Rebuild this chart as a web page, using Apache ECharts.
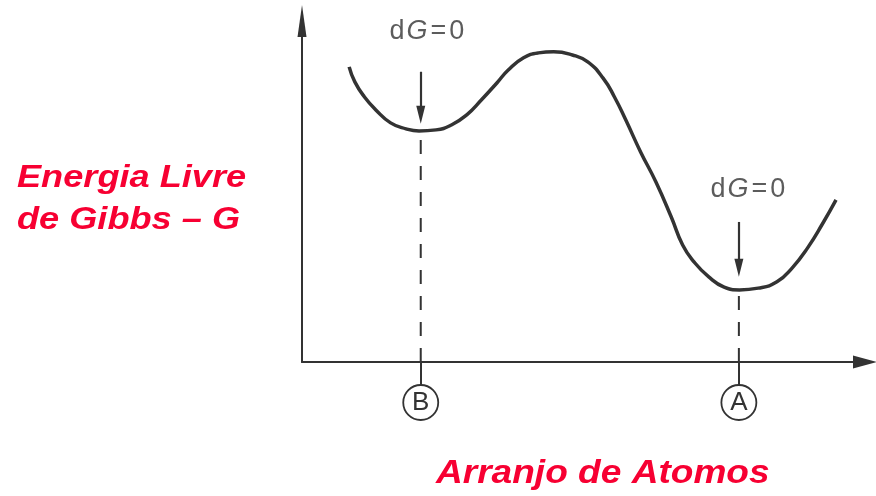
<!DOCTYPE html>
<html>
<head>
<meta charset="utf-8">
<script src="https://cdn.jsdelivr.net/npm/echarts@6/dist/echarts.min.js"></script>
<style>
  html, body { margin: 0; padding: 0; background: #ffffff; }
  #chart { width: 876px; height: 496px; }
</style>
</head>
<body>
<div id="chart"></div>
<script>
// Free-energy profile along the atomic arrangement coordinate
const curveX = [8.3, 9.3, 11.0, 13.0, 15.6, 18.3, 20.6, 23.6, 26.3, 29.0, 31.6, 34.3, 36.3, 39.0, 41.6, 44.3, 47.6, 50.3,
  53.0, 55.0, 57.0, 59.6, 62.3, 65.0, 67.0, 69.0, 71.6, 74.3, 77.0, 80.3, 83.6, 86.3, 89.0, 91.7, 94.0];
const curveG = [84.3, 80.0, 75.7, 72.0, 68.3, 66.6, 66.0, 66.3, 67.7, 70.6, 74.9, 79.7, 83.4, 86.9, 88.3, 88.6, 87.7, 85.7,
  81.1, 75.7, 69.1, 60.0, 51.4, 41.4, 33.4, 28.6, 24.3, 21.4, 20.6, 21.1, 22.9, 26.9, 32.6, 39.7, 46.3];

// Equilibrium states (local minima, dG = 0)
const stateNames = ['B', 'A'];
const stateX = [20.9, 76.9];
const stateG = [66.0, 20.6];

// Downward arrows pointing at each minimum (G values)
const arrowFrom = [82.9, 40.0];
const arrowTo = [70.6, 26.9];

// "dG=0" annotations (anchor in data units)
const noteX = [22.0, 78.5];
const noteG = [94.3, 49.4];
const noteText = ['dG=0', 'dG=0'];

const ink = '#333333';
const red = '#f70032';

const chart = echarts.init(document.getElementById('chart'));

const profile = curveX.map((x, i) => [x, curveG[i]]);

const dashSeries = stateX.map((x, i) => ({
  type: 'line',
  data: [[x, 0], [x, stateG[i]]],
  symbol: 'none',
  silent: true,
  z: 2,
  lineStyle: { color: ink, width: 2, type: [14, 12] }
}));

const arrowLines = stateX.map((x, i) => [
  { coord: [x, arrowFrom[i]] },
  { coord: [x, arrowTo[i]] }
]);

const notes = noteX.map((x, i) => ({ value: [x, noteG[i]], name: noteText[i] }));

const noteFont = { fontFamily: 'Liberation Sans', fontSize: 27, color: '#333333' };

chart.setOption({
  animation: false,
  backgroundColor: '#ffffff',
  grid: { left: 302, top: 21, width: 563, height: 341, containLabel: false },
  xAxis: {
    type: 'value',
    min: 0,
    max: 99.1,
    splitLine: { show: false },
    axisLine: {
      show: true,
      onZero: false,
      lineStyle: { color: ink, width: 2 },
      symbol: ['none', 'triangle'],
      symbolSize: [13, 24]
    },
    axisTick: {
      show: true,
      customValues: stateX,
      length: 23,
      lineStyle: { color: ink, width: 2 }
    },
    axisLabel: {
      show: true,
      customValues: stateX,
      margin: 23,
      formatter: function (v) {
        const k = stateX.indexOf(v);
        return '{c|' + (k >= 0 ? stateNames[k] : '') + '}';
      },
      rich: {
        c: {
          width: 35,
          height: 35,
          lineHeight: 35,
          align: 'center',
          verticalAlign: 'middle',
          borderRadius: 19,
          borderColor: ink,
          borderWidth: 1.8,
          fontFamily: 'Liberation Sans',
          fontSize: 26,
          color: ink
        }
      }
    }
  },
  yAxis: {
    type: 'value',
    min: 0,
    max: 97.4,
    splitLine: { show: false },
    axisTick: { show: false },
    axisLabel: { show: false },
    axisLine: {
      show: true,
      onZero: false,
      lineStyle: { color: ink, width: 2 },
      symbol: ['none', 'triangle'],
      symbolSize: [9, 32]
    }
  },
  series: [
    ...dashSeries,
    {
      type: 'line',
      name: 'G',
      data: profile,
      smooth: 0.5,
      symbol: 'none',
      z: 5,
      lineStyle: { color: ink, width: 3.5 },
      markLine: {
        silent: true,
        symbol: ['none', 'triangle'],
        symbolSize: [9, 18],
        label: { show: false },
        lineStyle: { color: ink, width: 2.2, type: 'solid' },
        data: arrowLines
      }
    },
    {
      type: 'scatter',
      data: notes,
      symbolSize: 0,
      silent: true,
      label: {
        show: true,
        position: 'inside',
        formatter: '{d|d}{g|G}{e|=}{z|0}',
        rich: {
          d: Object.assign({ padding: [0, 2, 0, 0] }, noteFont),
          g: Object.assign({ fontStyle: 'italic', padding: [0, 3, 0, 0] }, noteFont),
          e: Object.assign({ padding: [0, 3, 0, 0] }, noteFont),
          z: Object.assign({}, noteFont)
        }
      }
    }
  ],
  graphic: [
    {
      type: 'text',
      x: 17,
      y: 157,
      scaleX: 1.13,
      style: {
        text: 'Energia Livre\nde Gibbs – G',
        fontFamily: 'Liberation Sans',
        fontSize: 32,
        fontWeight: 'bold',
        fontStyle: 'italic',
        lineHeight: 42,
        fill: red
      }
    },
    {
      type: 'text',
      x: 436,
      y: 457,
      scaleX: 1.09,
      style: {
        text: 'Arranjo de Atomos',
        fontFamily: 'Liberation Sans',
        fontSize: 34,
        fontWeight: 'bold',
        fontStyle: 'italic',
        lineHeight: 34,
        fill: red
      }
    }
  ]
});
</script>
</body>
</html>
